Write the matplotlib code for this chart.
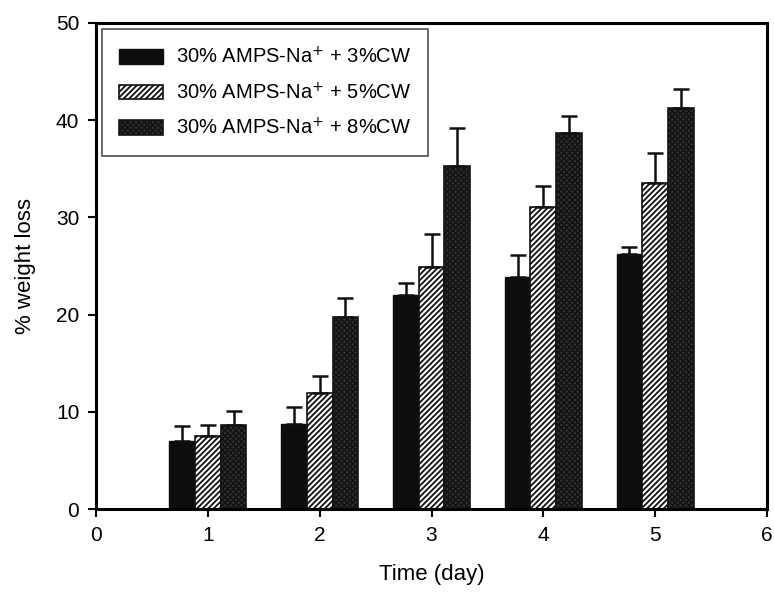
import numpy as np
import matplotlib
matplotlib.use('Agg')
from matplotlib import pyplot as plt

plt.rcParams['font.family'] = ['Liberation Sans', 'DejaVu Sans']
plt.rcParams['hatch.linewidth'] = 1.3

days = [1, 2, 3, 4, 5]
labels = ['30% AMPS-Na$^{+}$ + 3%CW',
          '30% AMPS-Na$^{+}$ + 5%CW',
          '30% AMPS-Na$^{+}$ + 8%CW']
cw3 = [7.0, 8.8, 22.0, 23.9, 26.2]
cw3_err = [1.5, 1.7, 1.2, 2.2, 0.8]
cw5 = [7.5, 11.9, 24.9, 31.1, 33.5]
cw5_err = [1.1, 1.8, 3.4, 2.1, 3.1]
cw8 = [8.6, 19.8, 35.3, 38.7, 41.2]
cw8_err = [1.5, 1.9, 3.9, 1.7, 2.0]

fig = plt.figure(figsize=(7.74, 5.99), dpi=100)
ax = fig.add_axes([0.124, 0.150, 0.867, 0.812])

x = np.array(days)
w = 0.23
ekw = dict(elinewidth=1.8, capthick=1.8, ecolor='#111111')
ax.bar(x - w, cw3, w, color='#0d0d0d', edgecolor='#0d0d0d', label=labels[0],
       yerr=[np.zeros(5), cw3_err], capsize=6, error_kw=ekw)
ax.bar(x, cw5, w, color='white', edgecolor='#111111', hatch='//////', lw=1.2,
       label=labels[1], yerr=[np.zeros(5), cw5_err], capsize=6, error_kw=ekw)
ax.bar(x + w, cw8, w, color='#333333', edgecolor='#141414', hatch='xxxxxx', lw=1.2,
       label=labels[2], yerr=[np.zeros(5), cw8_err], capsize=6, error_kw=ekw)

ax.set_xlim(0, 6)
ax.set_ylim(0, 50)
ax.set_xticks(range(0, 7))
ax.set_yticks(range(0, 51, 10))
ax.tick_params(direction='out', length=6, width=1.5, labelsize=15, pad=6)
for s in ax.spines.values():
    s.set_linewidth(2.2)
ax.set_xlabel('Time (day)', fontsize=16, labelpad=14)
ax.set_ylabel('% weight loss', fontsize=16, labelpad=14)

leg = ax.legend(loc='upper left', fontsize=14.5, frameon=True, fancybox=False,
                edgecolor='#222222', handlelength=2.2, handleheight=0.75,
                handletextpad=0.6, borderpad=0.85, labelspacing=0.72,
                borderaxespad=0.3, bbox_to_anchor=(0.0, 1.0))
leg.get_frame().set_linewidth(1.2)

plt.savefig('out.png', dpi=100)
